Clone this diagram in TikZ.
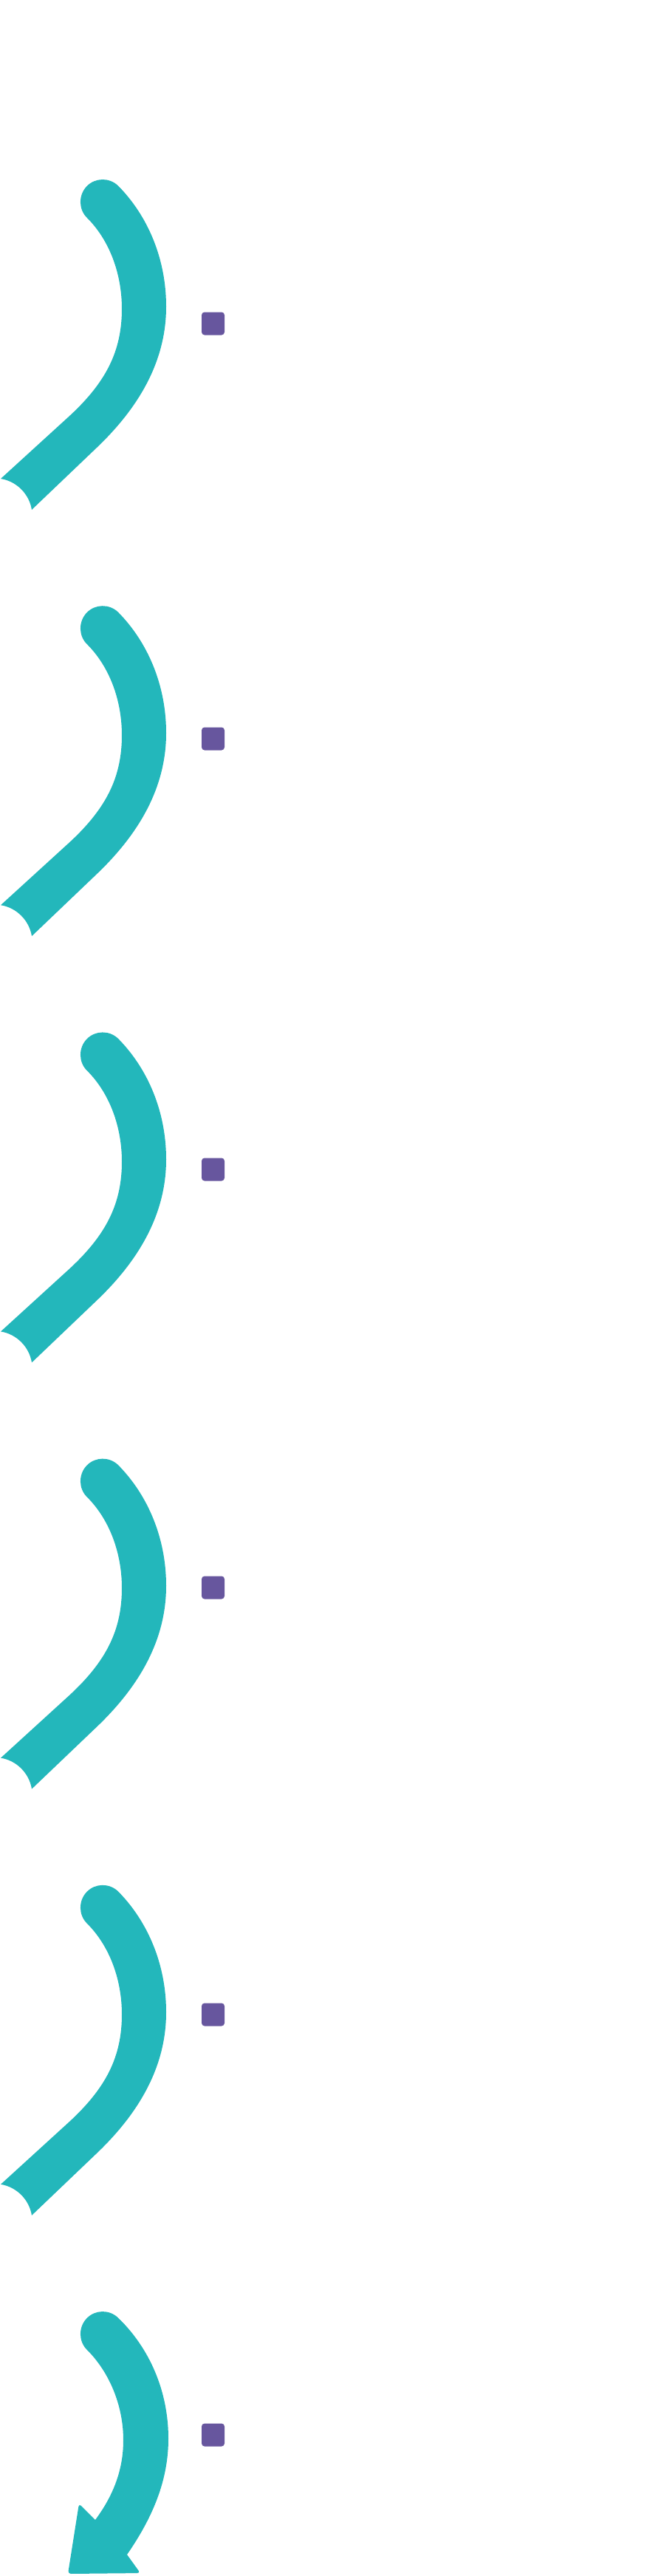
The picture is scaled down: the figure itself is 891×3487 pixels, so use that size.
\documentclass[tikz,border=0pt]{standalone}
\usepackage{tikz}
\definecolor{lagoon}{RGB}{35,183,187}
\definecolor{plum}{RGB}{103,86,158}
% contour d'un ruban (bout rond en haut, encoche en bas)
\newcommand{\rubanpath}{(118,295) .. controls (106.1,283.5) and (106,264) .. (117.5,252.1)
  .. controls (129,240.2) and (148.1,240) .. (160,251.5)
  .. controls (200,292) and (225,350) .. (225,415)
  .. controls (225,490) and (187,552.5) .. (131,606) -- (43,690)
  .. controls (39.6,668.6) and (22.4,651.4) .. (1,648)
  -- (92,565) .. controls (144,517.6) and (165,475) .. (165,418)
  .. controls (165,370) and (148,325) .. (118,295) -- cycle}

\begin{document}
\begin{tikzpicture}[x=1pt,y=-1pt,
  ruban/.style={fill=lagoon},
  puce/.style={fill=plum, rounded corners=4pt, minimum size=31pt, inner sep=0pt}]
  \useasboundingbox (0,0) rectangle (891,3487);
  % Rubans
  \fill[ruban] \rubanpath;
  \fill[ruban, shift={(0,577.2)}] \rubanpath;
  \fill[ruban, shift={(0,1154.4)}] \rubanpath;
  \fill[ruban, shift={(0,1731.6)}] \rubanpath;
  \fill[ruban, shift={(0,2308.8)}] \rubanpath;
  % Fleche finale
  \fill[ruban, shift={(0,2886)}] (118,295) .. controls (106.1,283.5) and (106,264) .. (117.5,252.1)
    .. controls (129,240.2) and (148.1,240) .. (160,251.5)
    .. controls (202,292) and (228,350) .. (228,415)
    .. controls (228,470) and (208,520) .. (172,572)
    [rounded corners=4pt] -- (190,597) -- (92,598) -- (107,503) [sharp corners] -- (129,525)
    .. controls (155,490) and (167,455) .. (167,417)
    .. controls (167,370) and (148,325) .. (118,295) -- cycle;
  % Puces
  \node[puce] (p1) at (288.5,438) {};
  \node[puce] (p2) at (288.5,1000) {};
  \node[puce] (p3) at (288.5,1583) {};
  \node[puce] (p4) at (288.5,2149) {};
  \node[puce] (p5) at (288.5,2727) {};
  \node[puce] (p6) at (288.5,3296) {};
\end{tikzpicture}
\end{document}
